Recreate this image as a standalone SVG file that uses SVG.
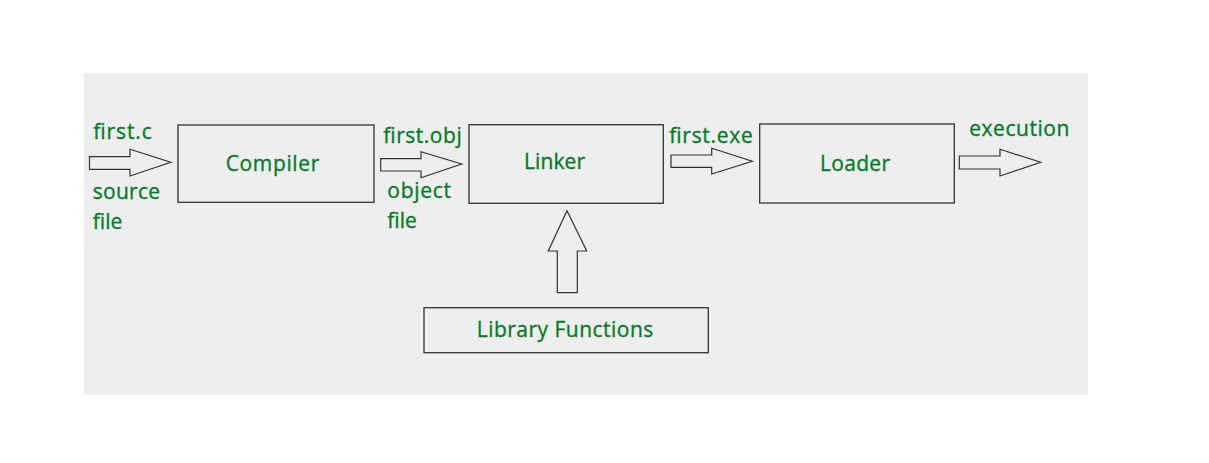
<svg xmlns="http://www.w3.org/2000/svg" width="1209" height="463" viewBox="0 0 1209 463">
<style>
.box{fill:none;stroke:#333;stroke-width:1.3}
.arr{fill:#eeeeee;stroke:#333;stroke-width:1.2;stroke-linejoin:miter}
.t{font-family:"Open Sans","Noto Sans",sans-serif;font-size:21px;fill:#0a7a2a;stroke:#0a7a2a;stroke-width:0.35}
</style>
<rect x="0" y="0" width="1209" height="463" fill="#ffffff"/>
<rect x="84" y="73" width="1004" height="322" fill="#eeeeee"/>
<g id="connectors">
<polygon class="arr" points="89.5,156.7 130,156.7 130,149.3 170.7,162.3 130,176 130,169.3 89.5,169.3"/>
<polygon class="arr" points="380.7,158.7 421,158.7 421,151.7 461.7,164 421,177.7 421,171 380.7,171"/>
<polygon class="arr" points="671,155 711.7,155 711.7,148.3 752.3,161.3 711.7,174 711.7,167.3 671,167.3"/>
<polygon class="arr" points="959.3,156 1000,156 1000,149.3 1040.7,162.3 1000,176 1000,169 959.3,169"/>
<polygon class="arr" points="567,210.7 586.7,251 577.3,251 577.3,292.7 557.3,292.7 557.3,251 548.3,251"/>
<text class="t" x="93.3" y="139" textLength="58.4">first.c</text>
<text class="t" x="92.7" y="199" textLength="67.3">source</text>
<text class="t" x="92.7" y="229.3" textLength="29.6">file</text>
<text class="t" x="383.3" y="143" textLength="78.4">first.obj</text>
<text class="t" x="387.3" y="197.5" textLength="63.7">object</text>
<text class="t" x="387.3" y="228.3" textLength="29.6">file</text>
<text class="t" x="669.3" y="142.7" textLength="83.4">first.exe</text>
<text class="t" x="969.3" y="136" textLength="100">execution</text>
</g>
<g id="compiler">
<rect class="box" x="178" y="125" width="196" height="77.3"/>
<text class="t" x="225.7" y="170.7" textLength="93.6">Compiler</text>
</g>
<g id="linker">
<rect class="box" x="469" y="124.7" width="194.3" height="78.6"/>
<text class="t" x="524" y="169.3" textLength="61">Linker</text>
</g>
<g id="loader">
<rect class="box" x="759.7" y="124" width="194.6" height="79"/>
<text class="t" x="820" y="170.7" textLength="70">Loader</text>
</g>
<g id="library">
<rect class="box" x="424" y="307.7" width="284.3" height="45"/>
<text class="t" x="476.7" y="336.7" textLength="176.6">Library Functions</text>
</g>
</svg>
